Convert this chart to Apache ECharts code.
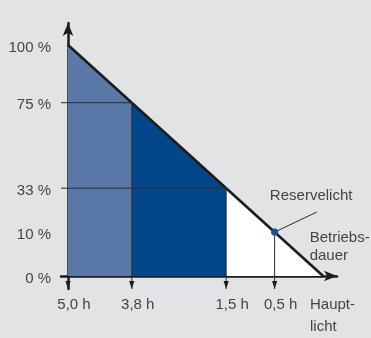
<!DOCTYPE html>
<html>
<head>
<meta charset="utf-8">
<script src="https://cdn.jsdelivr.net/npm/echarts@6/dist/echarts.min.js"></script>
<style>
html,body{margin:0;padding:0;background:#e2e3e5;}
#chart{width:371px;height:338px;}
</style>
</head>
<body>
<div id="chart"></div>
<script>
// Remaining-light levels (y) and remaining operating times (x), schematic positions
const percentLabels = ['100 %', '75 %', '33 %', '10 %', '0 %'];
const percentPos    = [100, 75, 38, 19, 0];
const timeLabels    = ['5,0 h', '3,8 h', '1,5 h', '0,5 h'];
const timePos       = [0, 25, 62, 81];
// Segments under the operating-time line
const segLight = [[0, 100], [25, 75]];
const segDark  = [[25, 75], [62, 38]];
const segWhite = [[62, 38], [100, 0]];
// Marked reserve-light point
const reservePoint = [81, 19];
const xAxisName = 'Haupt-\nlicht';
const lineName = 'Betriebs-\ndauer';
const reserveName = 'Reservelicht';

const xMin = -2.75, xMax = 105.45, yMin = -5.6, yMax = 109.5;
const FONT = "'Liberation Sans', Arial, sans-serif";
const TXT = '#444444';
const LINE = '#1c1c1c';

function lookup(pos, labels, v) {
  for (let i = 0; i < pos.length; i++) if (Math.abs(pos[i] - v) < 0.01) return labels[i];
  return '';
}

const chart = echarts.init(document.getElementById('chart'), null, {renderer: 'canvas'});

function areaSeries(data, color) {
  return {
    type: 'line', data: data, symbol: 'none', z: 2,
    lineStyle: {color: LINE, width: 2.6},
    areaStyle: {color: color, opacity: 1}
  };
}

const option = {
  backgroundColor: '#e2e3e5',
  animation: false,
  grid: {left: 61, right: 34, top: 23, bottom: 49, containLabel: false},
  xAxis: {
    type: 'value', min: xMin, max: xMax,
    axisLine: {onZero: true, symbol: ['none', 'arrow'], symbolSize: [8, 13],
      lineStyle: {color: LINE, width: 2.5}},
    axisTick: {show: false},
    splitLine: {show: false},
    axisLabel: {
      customValues: timePos,
      formatter: v => lookup(timePos, timeLabels, v),
      margin: 8, color: TXT, fontSize: 15, fontFamily: FONT,
      padding: [0, 0, 0, 12]
    },
    name: xAxisName, nameLocation: 'end', nameGap: -27,
    nameTextStyle: {align: 'left', verticalAlign: 'top', lineHeight: 22,
      padding: [18, 0, 0, 0], color: TXT, fontSize: 15, fontFamily: FONT}
  },
  yAxis: {
    type: 'value', min: yMin, max: yMax,
    axisLine: {onZero: true, symbol: ['none', 'arrow'], symbolSize: [8, 13],
      lineStyle: {color: LINE, width: 2.5}},
    axisTick: {show: false},
    splitLine: {show: false},
    axisLabel: {
      customValues: percentPos,
      formatter: v => '{p|' + lookup(percentPos, percentLabels, v) + '}',
      margin: 10, color: TXT, fontSize: 15, fontFamily: FONT,
      rich: {p: {color: TXT, fontSize: 15, fontFamily: FONT, padding: [5, 0, 0, 0]}}
    }
  },
  series: [
    areaSeries(segLight, '#5a79a9'),
    areaSeries(segDark, '#03468a'),
    areaSeries(segWhite, '#ffffff'),
    {
      type: 'custom', coordinateSystem: 'cartesian2d', data: [[0, 0]],
      silent: true, clip: false, z: 3,
      renderItem: function (params, api) {
        const ch = [];
        // horizontal guides at 75 % and 33 %
        [1, 2].forEach(i => {
          const a = api.coord([xMin, percentPos[i]]);
          const b = api.coord([timePos[i], percentPos[i]]);
          ch.push({type: 'line', shape: {x1: a[0], y1: a[1], x2: b[0], y2: b[1]},
            style: {stroke: '#2a2a2a', lineWidth: 1}});
        });
        // vertical guides down to the time labels
        [1, 2, 3].forEach(i => {
          const a = api.coord([timePos[i], percentPos[i]]);
          const b = api.coord([timePos[i], yMin]);
          ch.push({type: 'line', shape: {x1: a[0], y1: a[1], x2: b[0], y2: b[1]},
            style: {stroke: '#2a2a2a', lineWidth: 1}});
        });
        // arrowheads
        timePos.forEach(t => {
          const p = api.coord([t, yMin]);
          ch.push({type: 'polygon', shape: {points: [[p[0], p[1]], [p[0] - 2.6, p[1] - 8], [p[0] + 2.6, p[1] - 8]]},
            style: {fill: '#1c1c1c'}});
        });
        // reserve point + leader + labels
        const d = api.coord(reservePoint);
        ch.push({type: 'line', shape: {x1: d[0], y1: d[1], x2: d[0] + 42, y2: d[1] - 20},
          style: {stroke: '#2a2a2a', lineWidth: 1}});
        ch.push({type: 'circle', shape: {cx: d[0], cy: d[1], r: 3.6}, style: {fill: '#1b4c8e'}});
        ch.push({type: 'text', x: d[0] + 36.5, y: d[1] - 36,
          style: {text: reserveName, fill: TXT, fontSize: 15, fontFamily: FONT, align: 'center', verticalAlign: 'middle'}});
        ch.push({type: 'text', x: d[0] + 35, y: d[1] - 3,
          style: {text: lineName, fill: TXT, fontSize: 15, fontFamily: FONT, align: 'left', verticalAlign: 'top', lineHeight: 18}});
        return {type: 'group', children: ch};
      }
    }
  ]
};
chart.setOption(option);
</script>
</body>
</html>
